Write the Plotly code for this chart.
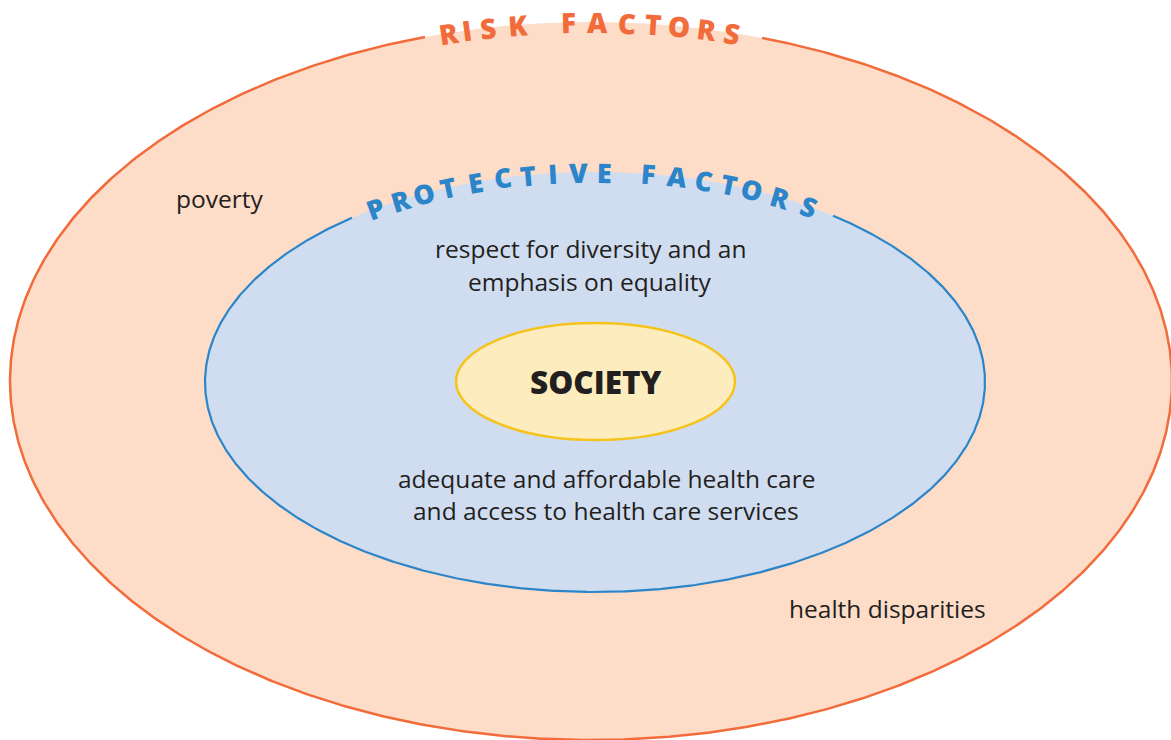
import numpy as np
import plotly.graph_objects as go

# ---------------- data ----------------
ring_names = ["risk", "protective", "society"]
ring_cx = [591, 595, 595.5]
ring_cy = [381, 382, 381.5]
ring_rx = [581, 390, 139.5]
ring_ry = [359, 210, 58.5]
ring_fill = ["#FDDCC8", "#D0DDF1", "#FDEDBE"]
ring_line = ["#F26B3A", "#2B85C8", "#F6C21C"]

risk_letters = list("RISKFACTORS")
risk_letter_x = [449, 467, 488, 518, 568, 597, 627, 653, 679, 707, 732]
risk_gap = (425, 762)

prot_letters = list("PROTECTIVEFACTORS")
prot_letter_x = [375, 400, 424, 448, 475, 503, 528, 552, 578, 604,
                 648, 677, 704, 729, 752, 780, 809]
prot_gap = (352, 833)

center_label = "SOCIETY"
text_lines = ["respect for diversity and an", "emphasis on equality",
              "adequate and affordable health care", "and access to health care services",
              "poverty", "health disparities"]
text_x = [590, 590, 606, 606, 219, 887]
text_y = [248, 281, 478, 510, 198, 608]

TXT = "#231F20"
FONT = "Open Sans"
W, H = 1171, 740

fig = go.Figure()

# filled ellipses
for i in range(3):
    cx, cy, rx, ry = ring_cx[i], ring_cy[i], ring_rx[i], ring_ry[i]
    fig.add_shape(type="circle", xref="x", yref="y",
                  x0=cx - rx, x1=cx + rx, y0=cy - ry, y1=cy + ry,
                  fillcolor=ring_fill[i],
                  line=dict(color=ring_line[i] if i == 2 else "rgba(0,0,0,0)", width=2.5),
                  layer="below")


def stroke_with_gap(i, gap, width):
    cx, cy, rx, ry = ring_cx[i], ring_cy[i], ring_rx[i], ring_ry[i]
    tl = np.arccos((gap[0] - cx) / rx)
    tr = np.arccos((gap[1] - cx) / rx)
    t = np.linspace(tl, tr + 2 * np.pi, 800)
    xs = cx + rx * np.cos(t)
    ys = cy - ry * np.sin(t)
    fig.add_trace(go.Scatter(x=xs, y=ys, mode="lines",
                             line=dict(color=ring_line[i], width=width),
                             hoverinfo="skip", showlegend=False))


stroke_with_gap(0, risk_gap, 2.5)
stroke_with_gap(1, prot_gap, 2.2)


def arc_letters(i, letters, xs, size):
    cx, cy, rx, ry = ring_cx[i], ring_cy[i], ring_rx[i], ring_ry[i]
    for ch, x in zip(letters, xs):
        t = np.arccos((x - cx) / rx)
        y = cy - ry * np.sin(t)
        ang = np.degrees(np.arctan2(ry * np.cos(t), rx * np.sin(t)))
        fig.add_annotation(x=x, y=y, text=ch, showarrow=False,
                           textangle=ang, xanchor="center", yanchor="middle",
                           font=dict(family=FONT, size=size, weight=800, color=ring_line[i]))


arc_letters(0, risk_letters, risk_letter_x, 28)
arc_letters(1, prot_letters, prot_letter_x, 27)

fig.add_annotation(x=ring_cx[2], y=ring_cy[2], text=center_label,
                   showarrow=False, font=dict(family=FONT, size=31.5, weight=800, color=TXT))

for txt, x, y in zip(text_lines, text_x, text_y):
    fig.add_annotation(x=x, y=y, text=txt, showarrow=False,
                       font=dict(family=FONT, size=24.5, color=TXT))

fig.update_layout(width=W, height=H, margin=dict(l=0, r=0, t=0, b=0),
                  paper_bgcolor="white", plot_bgcolor="white", showlegend=False,
                  xaxis=dict(range=[0, W], visible=False, fixedrange=True),
                  yaxis=dict(range=[H, 0], visible=False, fixedrange=True))

fig.write_html("out.html", config={"displayModeBar": False},
               post_script="document.body.style.margin='0';document.body.style.overflow='hidden';")
